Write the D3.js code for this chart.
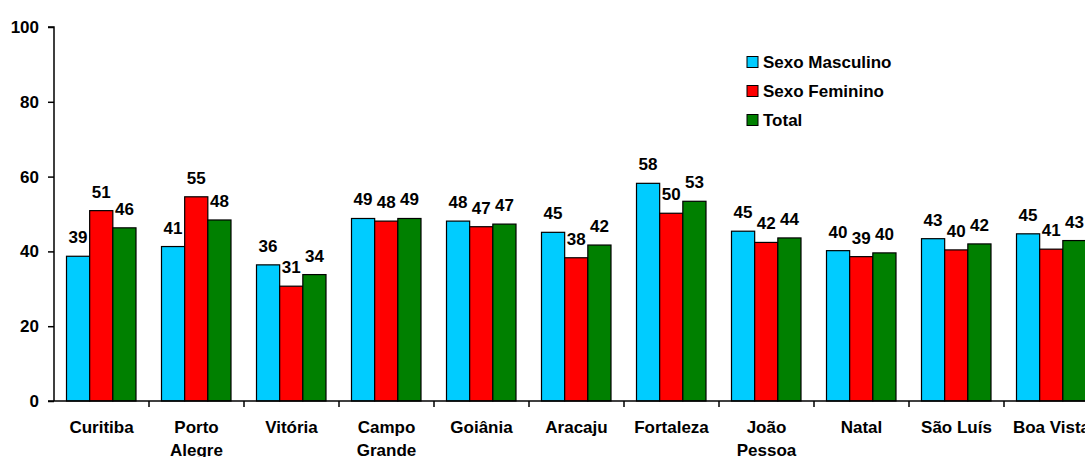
<!DOCTYPE html>
<html>
<head>
<meta charset="utf-8">
<script src="https://cdn.jsdelivr.net/npm/d3@7"></script>
<style>
  html, body { margin: 0; padding: 0; background: #fff; }
  svg { display: block; }
  text { font-family: "Liberation Sans", Arial, sans-serif; font-weight: bold; fill: #000; }
</style>
</head>
<body>
<svg id="chart" width="1085" height="457"></svg>
<script>
const categories = [["Curitiba"], ["Porto", "Alegre"], ["Vitória"], ["Campo", "Grande"], ["Goiânia"], ["Aracaju"], ["Fortaleza"], ["João", "Pessoa"], ["Natal"], ["São Luís"], ["Boa Vista"]];
const seriesNames = ["Sexo Masculino", "Sexo Feminino", "Total"];
const masculino = [38.7, 41.3, 36.4, 48.8, 48.1, 45.1, 58.2, 45.4, 40.2, 43.4, 44.7];
const feminino  = [50.9, 54.6, 30.7, 48.1, 46.6, 38.3, 50.2, 42.4, 38.6, 40.4, 40.6];
const total     = [46.3, 48.4, 33.8, 48.8, 47.3, 41.7, 53.4, 43.6, 39.6, 42.0, 42.9];
const yTicks = [0, 20, 40, 60, 80, 100];

const colors = ["#00CCFF", "#FF0000", "#008000"];
const seriesValues = [masculino, feminino, total];

const svg = d3.select("#chart");
const plotLeft = 54, bandW = 95, plotTop = 27, plotBottom = 401;
const catKeys = categories.map(c => c.join(" "));

const x0 = d3.scaleBand().domain(catKeys).range([plotLeft, plotLeft + bandW * catKeys.length]).padding(0);
const x1 = d3.scaleBand().domain(seriesNames).range([12.5, bandW - 13]).padding(0);
const y = d3.scaleLinear().domain([0, 100]).range([plotBottom, plotTop]);

// bars
const groups = svg.append("g").selectAll("g").data(catKeys).join("g")
  .attr("transform", d => `translate(${x0(d)},0)`);

groups.each(function(cat, i) {
  const g = d3.select(this);
  const data = seriesNames.map((s, j) => ({ s, j, v: seriesValues[j][i] }));
  g.selectAll("rect").data(data).join("rect")
    .attr("x", d => x1(d.s))
    .attr("y", d => y(d.v))
    .attr("width", x1.bandwidth())
    .attr("height", d => y(0) - y(d.v))
    .attr("fill", d => colors[d.j])
    .attr("stroke", "#000")
    .attr("stroke-width", 1.2);
  g.selectAll("text.lbl").data(data).join("text")
    .attr("class", "lbl")
    .attr("x", d => x1(d.s) + x1.bandwidth() / 2)
    .attr("y", d => y(d.v) - 13)
    .attr("text-anchor", "middle")
    .attr("font-size", 17)
    .text(d => d3.format(".0f")(d.v));
});

// y axis
const yAxis = d3.axisLeft(y).tickValues(yTicks).tickSize(6).tickPadding(9).tickFormat(d3.format("d"));
const ya = svg.append("g").attr("transform", `translate(${plotLeft},0)`).call(yAxis);
ya.select(".domain").attr("stroke", "#000").attr("stroke-width", 1.5).attr("d", `M-6,${plotTop}H0V${plotBottom}`);
ya.selectAll(".tick line").attr("stroke", "#000").attr("stroke-width", 1.5);
ya.selectAll(".tick text").attr("font-size", 17).attr("font-family", "Liberation Sans, Arial, sans-serif").attr("font-weight", "bold").attr("fill", "#000");

// x axis
const xa = svg.append("g").attr("transform", `translate(0,${plotBottom})`);
xa.append("line").attr("x1", plotLeft - 6).attr("x2", 1085).attr("y1", 0).attr("y2", 0)
  .attr("stroke", "#000").attr("stroke-width", 1.5);
xa.selectAll("line.tk").data(catKeys.slice(1)).join("line")
  .attr("class", "tk")
  .attr("x1", d => x0(d)).attr("x2", d => x0(d))
  .attr("y1", 0).attr("y2", 6)
  .attr("stroke", "#000").attr("stroke-width", 1.5);
xa.selectAll("text.cat").data(categories).join("text")
  .attr("class", "cat")
  .attr("text-anchor", "middle")
  .attr("font-size", 17)
  .attr("x", (d, i) => x0(catKeys[i]) + bandW / 2)
  .attr("y", 32)
  .each(function(d) {
    const t = d3.select(this);
    d.forEach((line, k) => {
      t.append("tspan").attr("x", t.attr("x")).attr("dy", k === 0 ? 0 : 23).text(line);
    });
  });

// legend
const legend = svg.append("g").attr("transform", "translate(747,62)");
seriesNames.forEach((s, j) => {
  const g = legend.append("g").attr("transform", `translate(0,${j * 29})`);
  g.append("rect").attr("x", 0).attr("y", -5.5).attr("width", 11).attr("height", 11)
    .attr("fill", colors[j]).attr("stroke", "#000").attr("stroke-width", 1);
  g.append("text").attr("x", 16).attr("y", 6).attr("font-size", 17).text(s);
});
</script>
</body>
</html>
